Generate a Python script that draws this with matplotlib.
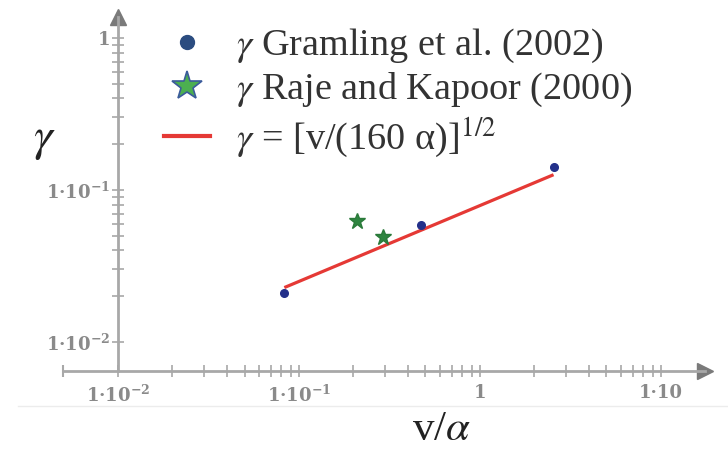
import matplotlib
matplotlib.use("Agg")
import matplotlib.pyplot as plt
from matplotlib.lines import Line2D
from matplotlib.ticker import FixedLocator, FixedFormatter, NullFormatter
import numpy as np

# data
gram_x = [0.083, 0.473, 2.55]
gram_y = [0.021, 0.0589, 0.141]
raje_x = [0.2095, 0.290]
raje_y = [0.0628, 0.0489]
fit_x = [0.083, 2.55]
fit_y = [0.0228, 0.126]

x_major = [0.01, 0.1, 1, 10]
x_labels = [r"1·10$^{\mathbf{-2}}$", r"1·10$^{\mathbf{-1}}$", "1", "1·10"]
y_major = [0.01, 0.1, 1]
y_labels = [r"1·10$^{\mathbf{-2}}$", r"1·10$^{\mathbf{-1}}$", "1"]

plt.rcParams['mathtext.fontset'] = 'stix'

fig = plt.figure(figsize=(7.28, 4.53), dpi=100)
ax = fig.add_axes([63 / 728, 82 / 453, 642 / 728, 354 / 453])

axis_col = "#a8a8a8"
tick_col = "#8a8a8a"

ax.plot(fit_x, fit_y, color="#e53935", lw=2.3, solid_capstyle="butt", zorder=3)
ax.plot(gram_x, gram_y, "o", color="#23308a", ms=5.5, zorder=4)
ax.plot(raje_x, raje_y, "*", color="#2e8540", mec="#2a7a3a", ms=12, zorder=4)

ax.set_xscale("log")
ax.set_yscale("log")
ax.set_xlim(10 ** -2.304, 10 ** 1.2435)
ax.set_ylim(10 ** -2.191, 10 ** 0.138)

# minor ticks only inside the labelled decades
x_minor = [m * 10.0 ** e for e in (-2, -1, 0) for m in range(2, 10)]
y_minor = [m * 10.0 ** e for e in (-2, -1) for m in range(2, 10)]
ax.xaxis.set_major_locator(FixedLocator(x_major))
ax.xaxis.set_major_formatter(FixedFormatter(x_labels))
ax.xaxis.set_minor_locator(FixedLocator(x_minor))
ax.xaxis.set_minor_formatter(NullFormatter())
ax.yaxis.set_major_locator(FixedLocator(y_major))
ax.yaxis.set_major_formatter(FixedFormatter(y_labels))
ax.yaxis.set_minor_locator(FixedLocator(y_minor))
ax.yaxis.set_minor_formatter(NullFormatter())

for s in ("top", "right"):
    ax.spines[s].set_visible(False)
ax.spines["left"].set_position(("data", 0.01))
for s in ("left", "bottom"):
    ax.spines[s].set_color(axis_col)
    ax.spines[s].set_linewidth(2)

ax.tick_params(which="both", direction="inout", color=axis_col, width=1.2, length=9)
ax.tick_params(axis="x", pad=5, labelsize=13, labelcolor=tick_col)
ax.tick_params(axis="y", pad=1, labelsize=13, labelcolor=tick_col)
for lab in ax.get_xticklabels() + ax.get_yticklabels():
    lab.set_family("DejaVu Serif")
    lab.set_fontweight("bold")
    lab.set_math_fontfamily("dejavuserif")

# arrow heads on the axes
ax.plot([1.0], [0.0], marker=">", color="#7a7a7a", ms=11, transform=ax.transAxes, clip_on=False)
ax.plot([10 ** -2.0], [10 ** 0.138], marker="^", color="#7a7a7a", ms=11, clip_on=False)
ax.plot([0.0], [0.0], marker="|", color=axis_col, ms=9, mew=1.5, transform=ax.transAxes, clip_on=False)

fig.text(44 / 728, 1 - 140 / 453, r"$\gamma$", fontsize=34, ha="center", va="center", color="#222222")
fig.text(442 / 728, 1 - 430 / 453, r"v/$\alpha$", fontsize=31, family="Liberation Serif",
         ha="center", va="center", color="#222222")

fig.add_artist(Line2D([18 / 728, 1], [1 - 406 / 453] * 2, color="#ececec", lw=1))

handles = [
    Line2D([], [], ls="none", marker="o", color="#2b4c80", ms=10),
    Line2D([], [], ls="none", marker="*", mfc="#4caf50", mec="#3b5b9b", mew=1.2, ms=22),
    Line2D([], [], color="#e53935", lw=3),
]
labels = [
    r"$\gamma$ Gramling et al. (2002)",
    r"$\gamma$ Raje and Kapoor (2000)",
    r"$\gamma$ = [v/(160 α)]$^{1/2}$",
]
leg = fig.legend(handles, labels, loc="upper left", bbox_to_anchor=(145 / 728, 1 - 8 / 453),
                 frameon=False, borderpad=0, handlelength=1.2, handletextpad=0.69,
                 labelspacing=0.15, prop={"family": "Liberation Serif", "size": 27.5})
for t in leg.get_texts():
    t.set_color("#333333")

fig.savefig("out.png", dpi=100)
